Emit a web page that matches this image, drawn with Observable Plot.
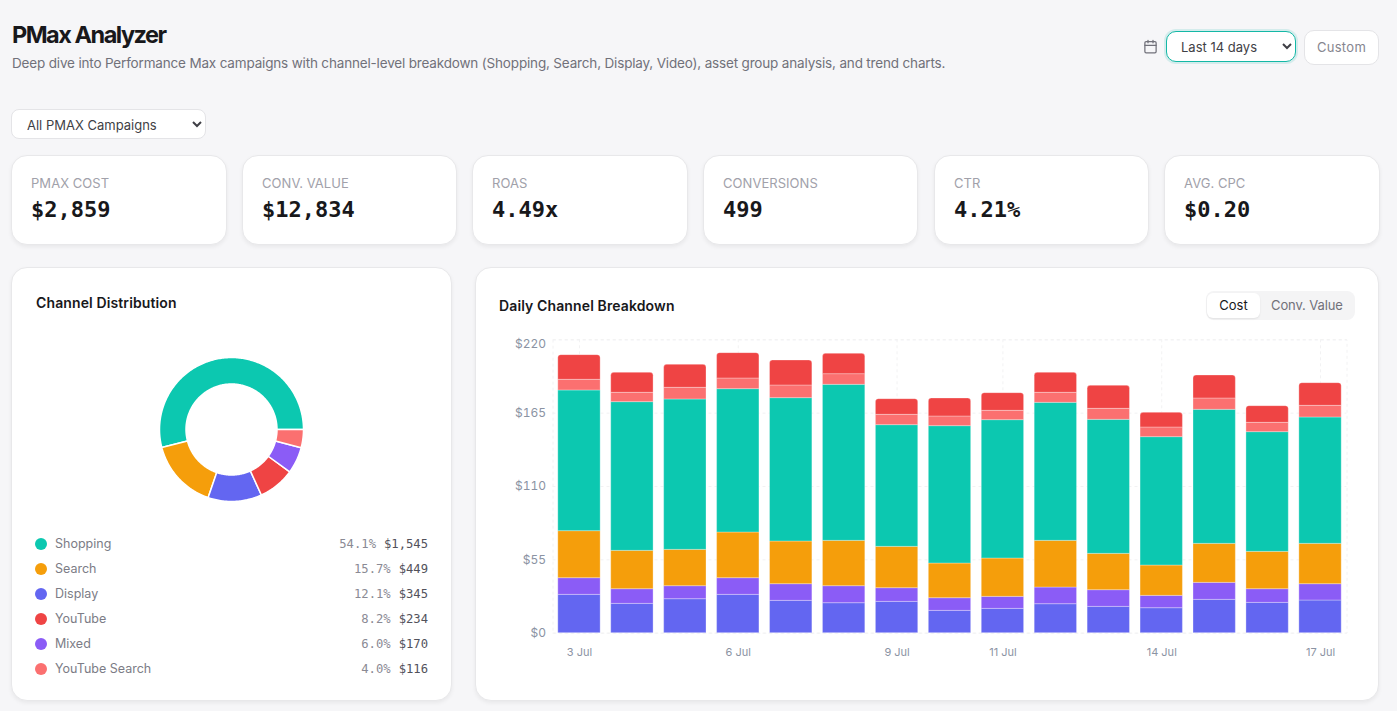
<!DOCTYPE html>
<html>
<head>
<meta charset="utf-8">
<script src="https://cdn.jsdelivr.net/npm/d3@7"></script>
<script src="https://cdn.jsdelivr.net/npm/@observablehq/plot@0.6"></script>
<style>
html,body{margin:0;padding:0;width:1397px;height:711px;overflow:hidden;background:#f6f6f8;font-family:Inter,sans-serif;color:#18181b}
.abs{position:absolute}
h1{position:absolute;left:12px;top:20px;margin:0;font-size:23.5px;line-height:30px;font-weight:700;letter-spacing:-1.5px;color:#18181b}
.sub{position:absolute;left:12px;top:54px;font-size:13.5px;line-height:18px;color:#71717a;letter-spacing:-.168px;white-space:nowrap}
select{font-family:Inter,sans-serif;background:#fff;color:#3f3f46;outline:none}
.card{position:absolute;background:#fff;border:1px solid #e8e8ea;border-radius:16px;box-shadow:0 2px 4px rgba(0,0,0,.06);box-sizing:border-box}
.kpi{top:155px;height:90px}
.kpi .l{position:absolute;left:19px;top:19px;font-size:13px;line-height:16px;letter-spacing:.05px;color:#a1a1aa;white-space:nowrap}
.kpi .v{position:absolute;left:19px;top:39px;font-family:"DejaVu Sans Mono",monospace;font-size:22px;line-height:30px;font-weight:700;color:#18181b;white-space:nowrap}
.ct{position:absolute;font-size:14px;line-height:18px;font-weight:600;letter-spacing:.12px;color:#18181b;white-space:nowrap}
.leg{position:absolute;left:35px;width:393px;height:20px;display:flex;align-items:center;font-size:12.5px;color:#7c7c86}
.leg i{width:12px;height:12px;border-radius:50%;margin-right:8px;flex:none}
.leg .n{flex:1}
.leg .p,.leg .a{font-family:"DejaVu Sans Mono",monospace;font-size:12.2px}
.leg .p{color:#8a8a94;margin-right:8px}
.leg .a{color:#52525b}
svg{background:transparent}
</style>
</head>
<body>
<h1>PMax Analyzer</h1>
<div class="sub">Deep dive into Performance Max campaigns with channel-level breakdown (Shopping, Search, Display, Video), asset group analysis, and trend charts.</div>

<svg class="abs" style="left:1143px;top:39px" width="15" height="15" viewBox="0 0 24 24" fill="none" stroke="#71717a" stroke-width="2" stroke-linecap="round" stroke-linejoin="round"><rect x="3" y="4" width="18" height="18" rx="2"/><path d="M16 2v4M8 2v4M3 10h18"/></svg>
<select class="abs" style="left:1166px;top:31px;width:130px;height:31px;padding:0 10px;border:1px solid #14b8a6;border-radius:10px;font-size:13px;box-shadow:0 0 0 2px rgba(20,184,166,.15)"><option>Last 14 days</option></select>
<div class="abs" style="left:1304px;top:30px;width:75px;height:35px;box-sizing:border-box;border:1px solid #e4e4e7;border-radius:10px;background:#fff;font-size:13px;line-height:33px;letter-spacing:.3px;text-align:center;color:#85858f">Custom</div>
<select class="abs" style="left:11px;top:109px;width:195px;height:30px;padding:2px 11px 0;border:1px solid #e4e4e7;border-radius:8px;font-size:13px"><option>All PMAX Campaigns</option></select>

<div id="kpis"></div>

<div class="card" style="left:11px;top:267px;width:441px;height:434px"></div>
<div class="ct" style="left:36px;top:294px">Channel Distribution</div>
<div id="donut" class="abs" style="left:131px;top:329px"></div>
<div id="legend"></div>

<div class="card" style="left:475px;top:267px;width:904px;height:434px"></div>
<div class="ct" style="left:499px;top:297px">Daily Channel Breakdown</div>
<div class="abs" style="left:1206px;top:291px;width:149px;height:29px;background:#f4f4f5;border-radius:8px"></div>
<div class="abs" style="left:1207px;top:293px;width:53px;height:25px;background:#fff;border-radius:6px;box-shadow:0 1px 2px rgba(0,0,0,.08);font-size:13px;line-height:25px;text-align:center;color:#18181b">Cost</div>
<div class="abs" style="left:1271px;top:293px;font-size:13px;line-height:25px;letter-spacing:-.1px;color:#71717a">Conv. Value</div>
<div id="bars" class="abs" style="left:476px;top:267px"></div>

<script>
const kpiLabels = ["PMAX COST","CONV. VALUE","ROAS","CONVERSIONS","CTR","AVG. CPC"];
const kpiValues = ["$2,859","$12,834","4.49x","499","4.21%","$0.20"];
const kpiLefts = [11,242,472,703,934,1164];

const channels = ["Shopping","Search","Display","YouTube","Mixed","YouTube Search"];
const channelColors = ["#0cc8b0","#f59e0b","#6366f1","#ef4444","#8b5cf6","#fb7070"];
const channelCost = [1545,449,345,234,170,116];
const channelPct = ["54.1%","15.7%","12.1%","8.2%","6.0%","4.0%"];
const channelCostLabels = ["$1,545","$449","$345","$234","$170","$116"];

const days = ["3 Jul","4 Jul","5 Jul","6 Jul","7 Jul","8 Jul","9 Jul","10 Jul","11 Jul","12 Jul","13 Jul","14 Jul","15 Jul","16 Jul","17 Jul"];
const dayTicks = ["3 Jul","6 Jul","9 Jul","11 Jul","14 Jul","17 Jul"];
const yTicks = [0,55,110,165,220];

const displayCost = [28.75,22,25.5,28.75,24.25,22.5,23.5,16.75,18.25,21.75,19.75,18.75,25,22.75,24.5];
const mixedCost = [12.5,11,9.75,12.5,12.5,12.75,10.25,9.5,9,12.5,12.5,9.25,12.75,10.25,12.25];
const searchCost = [35.25,28.75,27.25,34.25,32,34,31,26,28.75,35,27.25,22.75,29.25,28,30.25];
const shoppingCost = [105.5,111.5,112.75,107.5,107.5,117,91.25,103,103.75,103.5,100.5,96.25,100.5,89.75,94.75];
const youtubeSearchCost = [8,7,8.75,8,9.5,8,7.75,7.25,7,7.5,8.25,7.25,8.5,7,8.75];
const youtubeCost = [18.5,15,17.25,19,18.75,15.25,11.75,13.5,13.25,15,17.25,11,17.25,12.5,17];

const stackOrder = ["Display","Mixed","Search","Shopping","YouTube Search","YouTube"];
const seriesByName = {"Display":displayCost,"Mixed":mixedCost,"Search":searchCost,"Shopping":shoppingCost,"YouTube Search":youtubeSearchCost,"YouTube":youtubeCost};

// KPI cards
document.getElementById("kpis").innerHTML = kpiLabels.map((l,i)=>
  `<div class="card kpi" style="left:${kpiLefts[i]}px;width:${i%3==1||i==3?215:216}px"><div class="l">${l}</div><div class="v">${kpiValues[i]}</div></div>`).join("");

// legend
document.getElementById("legend").innerHTML = channels.map((c,i)=>
  `<div class="leg" style="top:${533.5+25*i}px"><i style="background:${channelColors[i]}"></i><span class="n">${c}</span><span class="p">${channelPct[i]}</span><span class="a">${channelCostLabels[i]}</span></div>`).join("");

const colorScale = {domain:channels, range:channelColors};

// donut: Plot.geo over a planar projection, polygons derived from the channel totals
const outerR = 72, innerR = 45.5;
const pieArcs = d3.pie().sort(null).startAngle(0).endAngle(2*Math.PI)(channelCost);
const slices = pieArcs.map((p,i)=>{
  const n = Math.max(8, Math.ceil((p.endAngle-p.startAngle)*60));
  const at = t => p.startAngle+(p.endAngle-p.startAngle)*t/n;
  const ring = [];
  for(let t=0;t<=n;t++) ring.push([outerR*Math.cos(at(t)),-outerR*Math.sin(at(t))]);
  for(let t=n;t>=0;t--) ring.push([innerR*Math.cos(at(t)),-innerR*Math.sin(at(t))]);
  ring.push(ring[0]);
  return {channel:channels[i], geometry:{type:"Polygon",coordinates:[ring]}};
});
document.getElementById("donut").append(Plot.plot({
  width:200,height:200,margin:0,
  projection:d3.geoIdentity().translate([100,100]),
  color:colorScale,
  marks:[Plot.geo(slices,{geometry:d=>d.geometry,fill:"channel",stroke:"#fff",strokeWidth:1.5})]
}));

// stacked bars
const longRows = stackOrder.flatMap(c=>days.map((day,i)=>({day,channel:c,value:seriesByName[c][i]})));
const lowerRows = longRows.filter(d=>d.channel!=="YouTube");
const topRows = days.map((day,i)=>{
  const below = stackOrder.slice(0,-1).reduce((s,c)=>s+seriesByName[c][i],0);
  return {day,channel:"YouTube",below,total:below+youtubeCost[i]};
});
const edge = {stroke:"#fff",strokeOpacity:.3,strokeWidth:1};
const tickFill = "#8b93a3";
document.getElementById("bars").append(Plot.plot({
  width:903,height:433,
  marginLeft:76.5,marginRight:32.5,marginTop:72.3,marginBottom:67.3,
  style:{background:"transparent",fontFamily:"Inter,sans-serif",overflow:"visible"},
  x:{domain:days,paddingInner:.2,paddingOuter:.1,round:false,label:null},
  y:{domain:[0,220],label:null},
  color:colorScale,
  marks:[
    Plot.frame({stroke:"#f2f2f3",strokeDasharray:"3 3"}),
    Plot.gridY(yTicks,{stroke:"#f2f2f3",strokeOpacity:1,strokeDasharray:"3 3"}),
    Plot.gridX(dayTicks,{stroke:"#f2f2f3",strokeOpacity:1,strokeDasharray:"3 3"}),
    Plot.barY(lowerRows,Plot.stackY({x:"day",y:"value",fill:"channel",order:stackOrder,...edge})),
    Plot.barY(topRows,{x:"day",y1:"below",y2:"total",fill:"channel",rx1y1:3,rx2y1:3,...edge}),
    Plot.axisY(yTicks.slice(0,-1),{tickSize:0,tickPadding:7,tickFormat:d=>"$"+d,fontSize:12,fill:tickFill,label:null}),
    Plot.axisY([220],{tickSize:0,tickPadding:7,tickFormat:d=>"$"+d,fontSize:12,fill:tickFill,dy:4,label:null}),
    Plot.axisX(dayTicks,{tickSize:0,tickPadding:15,fontSize:11,fill:tickFill,label:null})
  ]
}));
</script>
</body>
</html>
